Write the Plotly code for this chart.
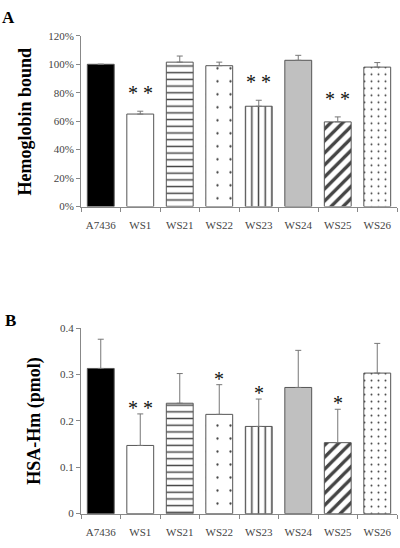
import plotly.graph_objects as go

categories = ["A7436", "WS1", "WS21", "WS22", "WS23", "WS24", "WS25", "WS26"]

hb_bound = [100, 65, 101.5, 99, 70.5, 102.8, 59.5, 98]
hb_err = [0, 2, 4.3, 2.5, 4.2, 3.5, 3.5, 3.2]
hb_stars = ["", "* *", "", "", "* *", "", "* *", ""]

hsa_hm = [0.313, 0.147, 0.238, 0.214, 0.188, 0.272, 0.153, 0.303]
hsa_err = [0.063, 0.068, 0.064, 0.064, 0.059, 0.080, 0.072, 0.064]
hsa_stars = ["", "* *", "", "*", "*", "", "*", ""]

# styling per category
fills = ["#000000", "#ffffff", "#ffffff", "#ffffff", "#ffffff", "#c0c0c0", "#ffffff", "#ffffff"]
shapes = ["", "", "-", ".", "|", "", "/", "."]
psizes = [8, 8, 6.7, 13, 6.7, 8, 8.5, 7]
psolid = [0.3, 0.3, 0.22, 0.025, 0.22, 0.3, 0.4, 0.06]

W, H = 400, 548
SERIF = "Liberation Serif, Times New Roman, serif"


def px_y(p):
    return 1 - p / H


fig = go.Figure()

for vals, errs, xa, ya in [(hb_bound, hb_err, "x", "y"), (hsa_hm, hsa_err, "x2", "y2")]:
    fig.add_trace(go.Bar(
        x=categories, y=vals, xaxis=xa, yaxis=ya,
        marker=dict(
            color=fills,
            line=dict(color="#555555", width=1),
            pattern=dict(shape=shapes, size=psizes, solidity=psolid,
                         fgcolor="#000000", fgopacity=1, fillmode="overlay"),
        ),
        error_y=dict(type="data", array=errs, arrayminus=[0] * len(errs),
                     symmetric=False, color="#777777", thickness=1, width=3),
        showlegend=False,
        hoverinfo="skip",
    ))

x_dom = [81 / W, 397 / W]
axis_common = dict(showline=True, linecolor="#888888", linewidth=1, showgrid=False,
                   zeroline=False, ticks="outside", tickcolor="#888888", ticklen=4,
                   tickfont=dict(family=SERIF, size=11, color="#444444"))

fig.update_layout(
    width=W, height=H,
    margin=dict(l=0, r=0, t=0, b=0),
    paper_bgcolor="white", plot_bgcolor="white",
    bargap=0.32,
    xaxis=dict(domain=x_dom, anchor="y", type="category", tickson="boundaries",
               ticklabelstandoff=8, **axis_common),
    yaxis=dict(domain=[px_y(205), px_y(30.5)], anchor="x", range=[0, 120], dtick=20,
               ticksuffix="%", **axis_common),
    xaxis2=dict(domain=x_dom, anchor="y2", type="category", tickson="boundaries",
                ticklabelstandoff=8, **axis_common),
    yaxis2=dict(domain=[px_y(519), px_y(329.3)], anchor="x2", range=[0, 0.4], dtick=0.1,
                **axis_common),
)

annotations = []
for cat, v, e, s in zip(categories, hb_bound, hb_err, hb_stars):
    if s:
        annotations.append(dict(x=cat, y=v + e, xref="x", yref="y", text=s, showarrow=False,
                                yanchor="bottom", yshift=5,
                                font=dict(family=SERIF, size=20, color="#111111")))
for cat, v, e, s in zip(categories, hsa_hm, hsa_err, hsa_stars):
    if s:
        annotations.append(dict(x=cat, y=v + e, xref="x2", yref="y2", text=s, showarrow=False,
                                yanchor="bottom", yshift=-7,
                                font=dict(family=SERIF, size=20, color="#111111")))

annotations += [
    dict(x=8 / W, y=px_y(12), xref="paper", yref="paper", text="<b>A</b>", showarrow=False,
         xanchor="center", yanchor="middle", font=dict(family=SERIF, size=17, color="black")),
    dict(x=10 / W, y=px_y(322), xref="paper", yref="paper", text="<b>B</b>", showarrow=False,
         xanchor="center", yanchor="middle", font=dict(family=SERIF, size=17, color="black")),
    dict(x=25 / W, y=px_y(118), xref="paper", yref="paper", text="<b>Hemoglobin bound</b>",
         showarrow=False, textangle=-90, xanchor="center", yanchor="middle",
         font=dict(family=SERIF, size=18, color="black")),
    dict(x=35 / W, y=px_y(424), xref="paper", yref="paper", text="<b>HSA-Hm (pmol)</b>",
         showarrow=False, textangle=-90, xanchor="center", yanchor="middle",
         font=dict(family=SERIF, size=18, color="black")),
]
fig.update_layout(annotations=annotations)

fig.write_html("out.html", config={"displayModeBar": False},
               post_script="document.body.style.margin='0';")
